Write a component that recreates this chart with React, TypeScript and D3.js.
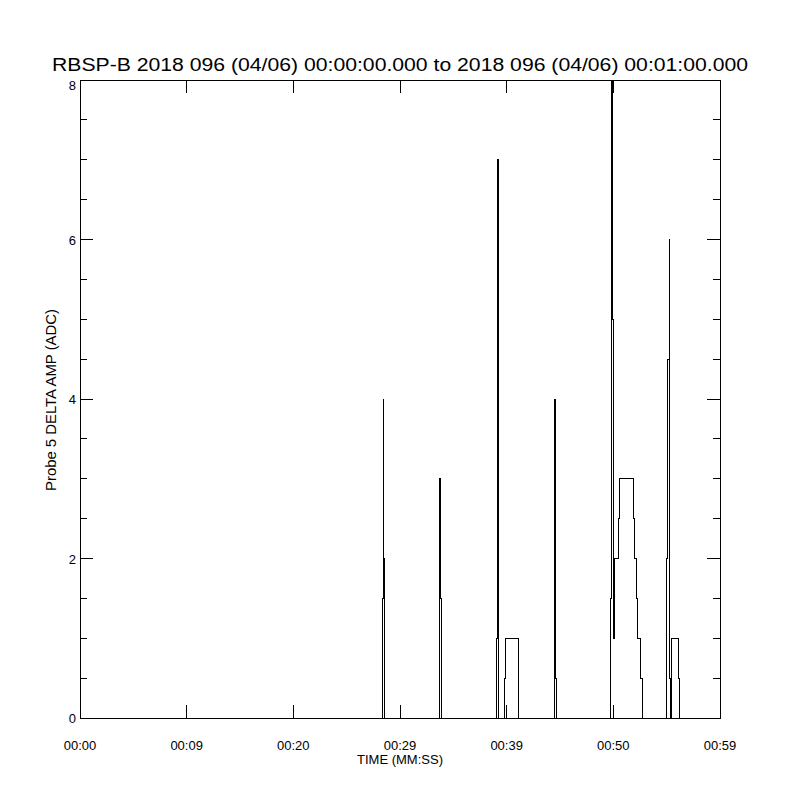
import React from 'react';
import * as d3 from 'd3';

const TITLE = 'RBSP-B 2018 096 (04/06) 00:00:00.000 to 2018 096 (04/06) 00:01:00.000';
const X_TITLE = 'TIME (MM:SS)';
const Y_TITLE = 'Probe 5 DELTA AMP (ADC)';

// x axis in seconds after 00:00:00
const xTicks = [0, 10, 20, 30, 40, 50, 60];
const xTickLabels = ['00:00', '00:09', '00:20', '00:29', '00:39', '00:50', '00:59'];
const yTicks = [0, 2, 4, 6, 8];
const yTickLabels = ['0', '2', '4', '6', '8'];

// sample times (s) and delta amplitude (ADC), drawn as steps
const times = [
  0, 28.34, 28.43, 28.47, 28.53, 28.57,
  33.66, 33.73, 33.8, 33.86,
  39.03, 39.12, 39.17, 39.21, 39.24,
  39.78, 39.87, 41.09,
  44.48, 44.6, 44.67,
  49.72, 49.81, 49.85, 49.9, 49.94, 50.0, 50.09, 50.47, 50.56,
  51.87, 52.03, 52.19, 52.28, 52.59, 52.72,
  55.0, 55.06, 55.22, 55.26, 55.31, 55.38, 55.41, 56.09, 56.18,
  60,
];
const amps = [
  0, 1.5, 4, 2, 1.5, 0,
  1.5, 3, 1.5, 0,
  1, 4.5, 7, 1.5, 0,
  0.5, 1, 0,
  4, 0.5, 0,
  1.5, 5, 9, 7.85, 5, 1, 2, 2.5, 3,
  2.5, 2, 1.5, 1, 0.5, 0,
  2, 4.5, 6, 5, 0.5, 0, 1, 0.5, 0,
  0,
];

const left = 80;
const right = 720;
const top = 80;
const bottom = 718;
const majorLen = 13;
const minorLen = 7;
const font = '"Liberation Sans", Arial, sans-serif';

export default function App() {
  const x = d3.scaleLinear().domain([0, 60]).range([left, right]);
  const y = d3.scaleLinear().domain([0, 8]).range([bottom, top]);

  const yMinor = d3.range(0, 8.01, 0.5).filter(v => v % 2 !== 0);

  const line = d3
    .line<number>()
    .x((d, i) => x(times[i]))
    .y(d => y(d))
    .curve(d3.curveStepAfter);

  return (
    <svg width={800} height={800} style={{ display: 'block', position: 'absolute', left: 0, top: 0, background: '#fff' }}>
      <rect x={0} y={0} width={800} height={800} fill="#fff" />
      <defs>
        <clipPath id="plot-clip">
          <rect x={left} y={top} width={right - left + 1} height={bottom - top + 1} />
        </clipPath>
      </defs>

      <text x={400} y={71} textAnchor="middle" fontFamily={font} fontSize={18} textLength={696} lengthAdjust="spacingAndGlyphs" fill="#000">
        {TITLE}
      </text>

      <g shapeRendering="crispEdges" stroke="#000" strokeWidth={1} fill="none">
        <rect x={left + 0.5} y={top + 0.5} width={right - left} height={bottom - top} />
        {xTicks.map(t => (
          <g key={'xt' + t}>
            <line x1={x(t)} x2={x(t)} y1={bottom} y2={bottom - majorLen} />
            <line x1={x(t)} x2={x(t)} y1={top} y2={top + majorLen} />
          </g>
        ))}
        {yTicks.map(t => (
          <g key={'yt' + t}>
            <line x1={left} x2={left + majorLen} y1={y(t)} y2={y(t)} />
            <line x1={right} x2={right - majorLen} y1={y(t)} y2={y(t)} />
          </g>
        ))}
        {yMinor.map(t => (
          <g key={'ym' + t}>
            <line x1={left} x2={left + minorLen} y1={y(t)} y2={y(t)} />
            <line x1={right} x2={right - minorLen} y1={y(t)} y2={y(t)} />
          </g>
        ))}
      </g>

      <path
        d={line(amps) ?? ''}
        fill="none"
        stroke="#000"
        strokeWidth={1}
        clipPath="url(#plot-clip)"
        shapeRendering="crispEdges"
      />

      <g fontFamily={font} fontSize={13} fill="#000">
        {xTicks.map((t, i) => (
          <text key={'xl' + t} x={x(t)} y={750} textAnchor="middle">
            {xTickLabels[i]}
          </text>
        ))}
        {yTicks.map((t, i) => (
          <text key={'yl' + t} x={76} y={Math.max(y(t) + 5, top + 10)} textAnchor="end">
            {yTickLabels[i]}
          </text>
        ))}
        <text x={400} y={764} textAnchor="middle">
          {X_TITLE}
        </text>
        <text transform="translate(56,400) rotate(-90)" textAnchor="middle" fontSize={14} textLength={182} lengthAdjust="spacingAndGlyphs">
          {Y_TITLE}
        </text>
      </g>
    </svg>
  );
}
